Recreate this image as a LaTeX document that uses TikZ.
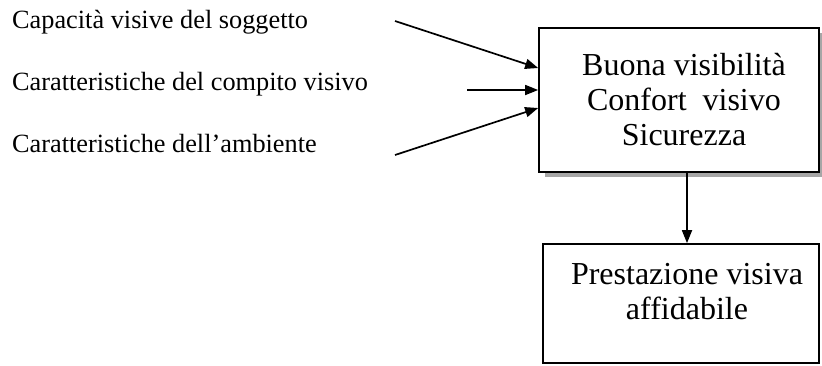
\documentclass[tikz,border=0pt]{standalone}
\usepackage{fontspec}
\setmainfont{Liberation Serif}
\usetikzlibrary{arrows.meta,calc}
\begin{document}
\begin{tikzpicture}[x=1pt,y=-1pt,
  box/.style={draw,line width=1.7pt,rectangle,inner sep=0pt,fill=white},
  lefttext/.style={anchor=base west,inner sep=0pt,font=\fontsize{26.3}{30}\selectfont},
  boxtext/.style={align=center,inner sep=0pt,font=\fontsize{32}{35}\selectfont},
  arr/.style={line width=1.7pt,-{Triangle[length=13pt,width=10pt]}}]
\useasboundingbox (0,0) rectangle (822,365);
% shadow
\fill[gray!70] (545,33) rectangle (825,177);
\node[box,minimum width=280pt,minimum height=144pt] (b1) at (679,100) {};
\node[box,minimum width=276pt,minimum height=119pt] (b2) at (681,303.5) {};
\node[boxtext] (t1) at (684,100) {Buona visibilità\\Confort\ \ visivo\\Sicurezza};
\node[boxtext] (t2) at (687,291.5) {Prestazione visiva\\affidabile};
\node[lefttext] (l1) at (12,28) {Capacità visive del soggetto};
\node[lefttext] (l2) at (12,90) {Caratteristiche del compito visivo};
\node[lefttext] (l3) at (12,152) {Caratteristiche dell’ambiente};
\coordinate (s1) at (395,21);
\coordinate (s2) at (467,90);
\coordinate (s3) at (395,155);
\coordinate (e1) at (b1.west |- 0,68);
\coordinate (e2) at (b1.west |- 0,90);
\coordinate (e3) at (b1.west |- 0,108);
\draw[arr] (s1) -- (e1);
\draw[arr] (s2) -- (e2);
\draw[arr] (s3) -- (e3);
\coordinate (d1) at (b1.south -| 687,0);
\coordinate (d2) at (b2.north -| 687,0);
\draw[arr] (d1) -- (d2);
\end{tikzpicture}
\end{document}
